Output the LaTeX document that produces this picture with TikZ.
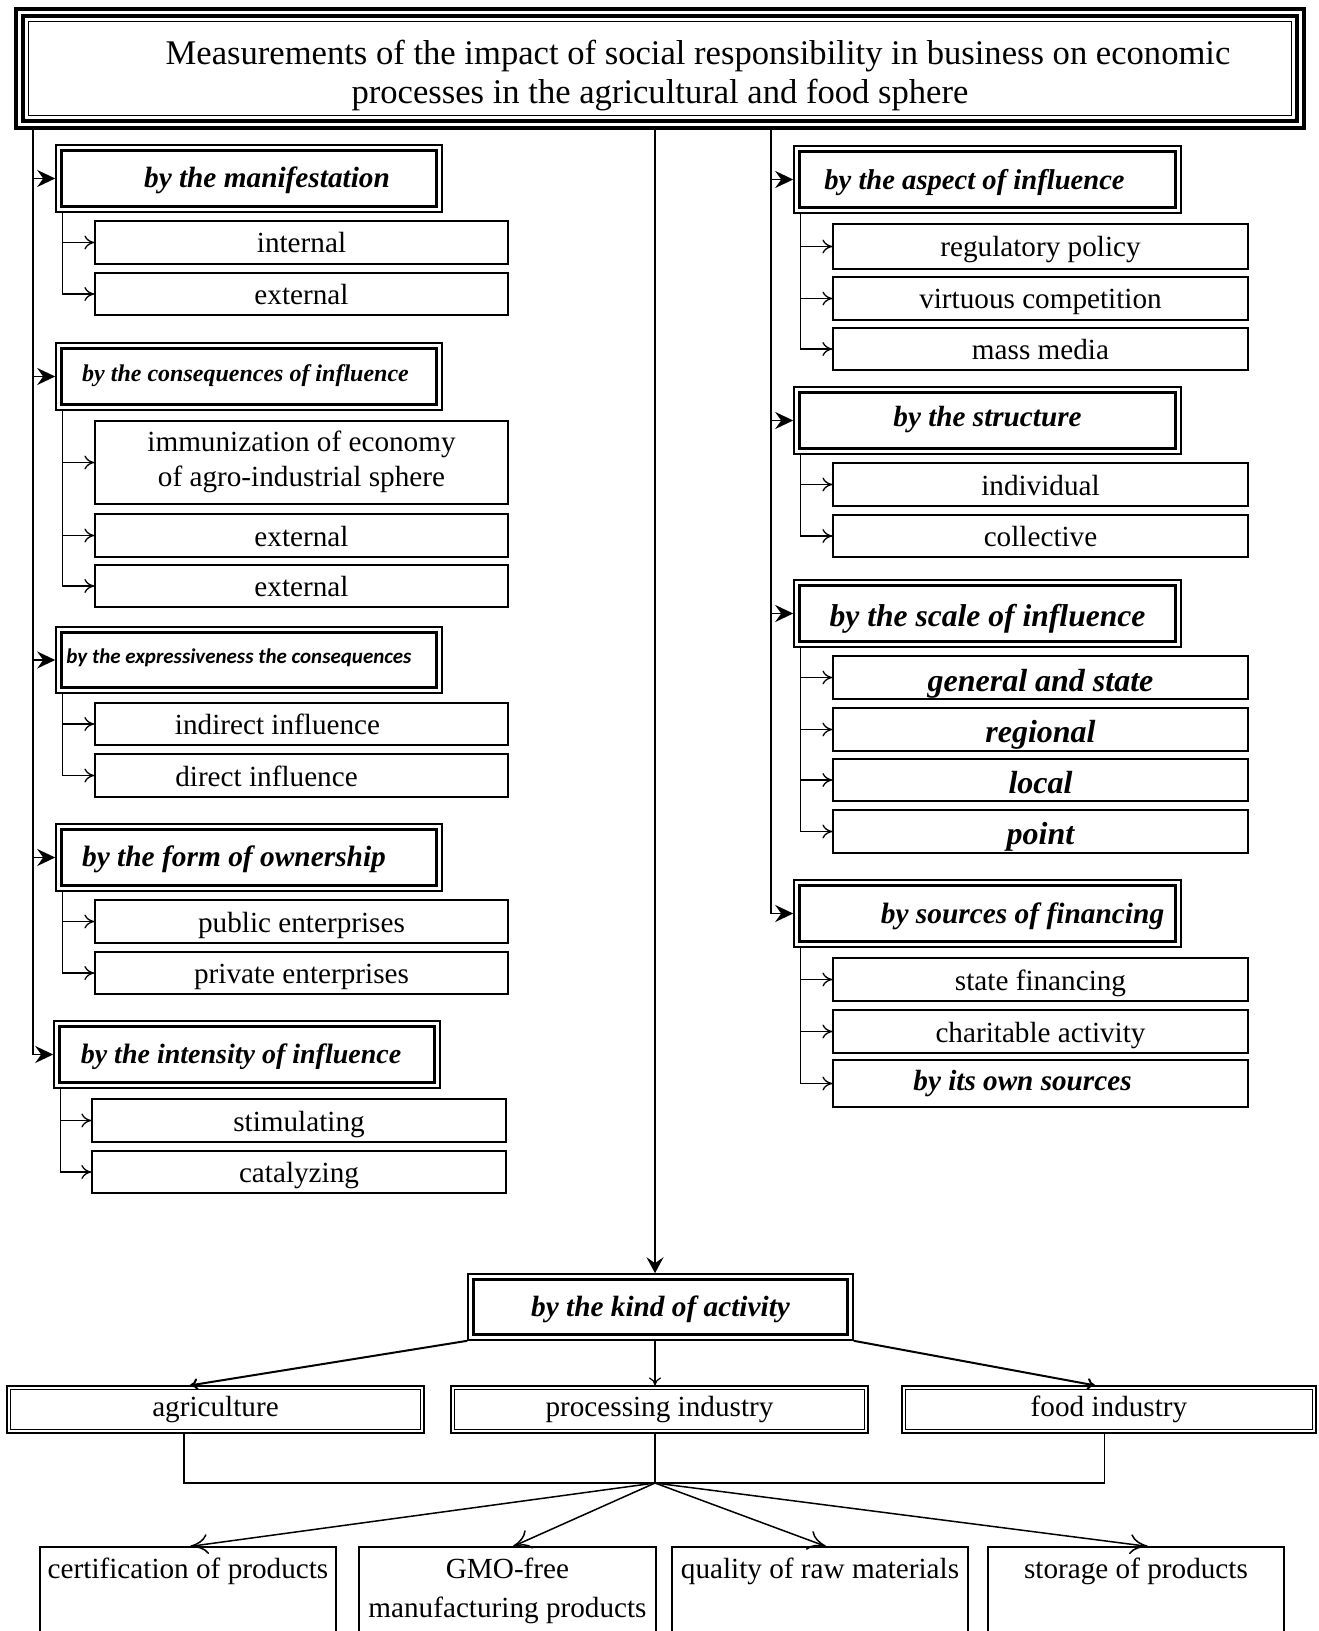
\documentclass[tikz,border=0pt]{standalone}
\usepackage{fontspec}
\setmainfont{Liberation Serif}
\newfontfamily\carlito{Carlito}
\usetikzlibrary{arrows.meta}
\begin{document}
\begin{tikzpicture}[x=0.5pt,y=-0.5pt,
  txt/.style={font=\fontsize{14.6}{17.5}\selectfont},
  bi/.style={font=\fontsize{#1}{#1}\selectfont\bfseries\itshape},
  sub/.style={draw, line width=0.6pt, inner sep=0pt, txt, text height=#1, text depth=0pt},
  sub/.default=10.5pt,
  cat/.style={draw, line width=0.8pt, inner sep=0pt, minimum height=33.5pt, text height=#1, text depth=0pt},
  cat/.default=9.5pt,
  dbl/.style={draw, line width=0.6pt, inner sep=0pt, txt, text height=7pt, text depth=0pt, minimum height=23.5pt},
  bot/.style={draw, line width=0.6pt, inner sep=0pt, txt, text height=10.5pt, text depth=28.5pt, minimum width=148pt, minimum height=49pt},
  catarrow/.style={line width=0.8pt, -{Stealth[length=9pt,width=8.5pt,inset=3pt]}},
  subarrow/.style={line width=0.65pt, -{To[length=5pt,width=7pt]}},
  midarrow/.style={line width=0.65pt, -{Stealth[length=8pt,width=8.5pt,inset=3pt]}},
  kindarrow/.style={line width=1pt, -{To[length=4pt,width=6pt]}},
  botarrow/.style={line width=0.75pt, -{To[length=9pt,width=10pt]}}
]
\useasboundingbox (0,0) rectangle (1318,1631);
\clip (0,0) rectangle (1318,1631);
\fill[white] (0,0) rectangle (1318,1631);

% title
\node[draw, line width=2pt, inner sep=0pt, minimum width=644pt, minimum height=59.5pt,
  font=\fontsize{17.3}{19.5}\selectfont, text height=12pt, text depth=15.5pt] (title) at (660,68.5)
  {\begin{tabular}[t]{@{}c@{}}\hspace*{38pt}Measurements of the impact of social responsibility in business on economic\\processes in the agricultural and food sphere\end{tabular}};
\draw[line width=1.8pt] ([shift={(4.5pt,-4.5pt)}]title.north west) rectangle ([shift={(-4.5pt,4.5pt)}]title.south east);
\draw[line width=0.9pt] ([shift={(7.25pt,-7.25pt)}]title.north west) rectangle ([shift={(-7.25pt,7.25pt)}]title.south east);

% left categories
\node[cat=9.5pt, bi=14.65, minimum width=193pt] (man) at (249,178.5) {\hspace*{18pt}by the manifestation};
\node[cat=5pt, bi=12, minimum width=193pt] (cons) at (249,376.5) {by the consequences of influence\hspace*{3.5pt}};
\node[cat=3pt, font=\fontsize{10.5}{10.5}\selectfont\carlito\bfseries\itshape, minimum width=193pt, minimum height=33pt] (expr) at (249,660) {by the expressiveness the consequences\hspace*{10pt}};
\node[cat=9pt, bi=14.7, minimum width=193pt] (own) at (249,857.5) {by the form of ownership\hspace*{15pt}};
\node[cat=8.5pt, bi=14, minimum width=193pt] (int) at (247,1054.5) {by the intensity of influence\hspace*{6pt}};

% left subs
\node[sub, minimum width=206.5pt, minimum height=21.5pt] (internal) at (301.5,242.5) {internal};
\node[sub, minimum width=206.5pt, minimum height=21pt] (ext1) at (301.5,294) {external};
\node[sub, minimum width=206.5pt, minimum height=41.5pt, text height=10.5pt, text depth=21.3pt] (immun) at (301.5,462.5)
  {\begin{tabular}[t]{@{}c@{}}immunization of economy\\of agro-industrial sphere\end{tabular}};
\node[sub, minimum width=206.5pt, minimum height=21.5pt] (ext2) at (301.5,535.5) {external};
\node[sub, minimum width=206.5pt, minimum height=21pt] (ext3) at (301.5,586) {external};
\node[sub, minimum width=206.5pt, minimum height=21pt] (indir) at (301.5,724) {indirect influence\hspace*{24pt}};
\node[sub, minimum width=206.5pt, minimum height=21.5pt] (dir) at (301.5,775.5) {direct influence\hspace*{35pt}};
\node[sub, minimum width=206.5pt, minimum height=21.5pt] (pub) at (301.5,921.5) {public enterprises};
\node[sub, minimum width=206.5pt, minimum height=21pt] (priv) at (301.5,973) {private enterprises};
\node[sub, minimum width=207pt, minimum height=21.5pt] (stim) at (299,1120.5) {stimulating};
\node[sub, minimum width=207pt, minimum height=21pt] (catal) at (299,1172) {catalyzing};

% right categories
\node[cat=10.5pt, bi=14.3, minimum width=193.5pt] (asp) at (987.5,179.5) {by the aspect of influence\hspace*{13pt}};
\node[cat=5.5pt, bi=14.6, minimum width=193.5pt] (str) at (987.5,420.5) {by the structure};
\node[cat=13pt, bi=15.8, minimum width=193.5pt] (sca) at (987.5,613.5) {by the scale of influence};
\node[cat=9.5pt, bi=14.7, minimum width=193.5pt] (fin) at (987.5,913.5) {\hspace*{35pt}by sources of financing};

% right subs
\node[sub, minimum width=207.5pt, minimum height=22.5pt] (reg) at (1040.5,246.5) {regulatory policy};
\node[sub, minimum width=207.5pt, minimum height=21.5pt] (virt) at (1040.5,298.5) {virtuous competition};
\node[sub, minimum width=207.5pt, minimum height=21pt] (mass) at (1040.5,349) {mass media};
\node[sub, minimum width=207.5pt, minimum height=21.5pt] (indiv) at (1040.5,484.5) {individual};
\node[sub, minimum width=207.5pt, minimum height=21pt] (coll) at (1040.5,536) {collective};
\node[sub=13.5pt, bi=16, minimum width=207.5pt, minimum height=21.5pt] (gen) at (1040.5,677.5) {general and state};
\node[sub=13pt, bi=16, minimum width=207.5pt, minimum height=21.5pt] (regn) at (1040.5,729.5) {regional};
\node[sub=13pt, bi=16, minimum width=207.5pt, minimum height=21pt] (loc) at (1040.5,780) {local};
\node[sub=12.5pt, bi=16, minimum width=207.5pt, minimum height=21.5pt] (pnt) at (1040.5,831.5) {point};
\node[sub, minimum width=207.5pt, minimum height=21.5pt] (sfin) at (1040.5,979.5) {state financing};
\node[sub, minimum width=207.5pt, minimum height=21.5pt] (char) at (1040.5,1031.5) {charitable activity};
\node[sub=7pt, bi=14.6, minimum width=207.5pt, minimum height=23.5pt] (osrc) at (1040.5,1083.5) {by its own sources\hspace*{18pt}};

% kind of activity
\node[cat=9.7pt, bi=14.65, minimum width=192.5pt, minimum height=33pt] (kind) at (660.5,1307) {by the kind of activity};
\node[dbl, minimum width=208.5pt] (agri) at (215.5,1409.5) {agriculture};
\node[dbl, minimum width=208.5pt] (proc) at (659.5,1409.5) {processing industry};
\node[dbl, minimum width=207pt] (food) at (1109,1409.5) {food industry};

% bottom boxes
\node[bot] (cert) at (188,1596) {certification of products};
\node[bot, minimum width=148.5pt] (gmo) at (507.5,1596) {\begin{tabular}[t]{@{}c@{}}GMO-free\\[2pt]manufacturing products\end{tabular}};
\node[bot] (qual) at (820,1596) {quality of raw materials};
\node[bot] (stor) at (1136,1596) {storage of products};

% inner border lines
\foreach \nn in {man,cons,expr,own,int,asp,str,sca,fin,kind}
  \draw[line width=1.4pt] ([shift={(3pt,-3pt)}]\nn.north west) rectangle ([shift={(-3pt,3pt)}]\nn.south east);
\foreach \nn in {agri,proc,food}
  \draw[line width=0.6pt] ([shift={(2pt,-2pt)}]\nn.north west) rectangle ([shift={(-2pt,2pt)}]\nn.south east);

% main connectors
\coordinate (LT) at (33,0);
\coordinate (RT) at (771,0);
\coordinate (CT) at (655,0);
\draw[catarrow] (title.south -| LT) |- (int.west);
\foreach \nn in {man,cons,expr,own} \draw[catarrow] (\nn.west -| LT) -- (\nn.west);
\draw[catarrow] (title.south -| RT) |- (fin.west);
\foreach \nn in {asp,str,sca} \draw[catarrow] (\nn.west -| RT) -- (\nn.west);
\draw[midarrow] (title.south -| CT) -- (kind.north -| CT);

% sub connectors
\foreach \pp/\qq in {man/internal, man/ext1, cons/immun, cons/ext2, cons/ext3, expr/indir, expr/dir, own/pub, own/priv, int/stim, int/catal,
  asp/reg, asp/virt, asp/mass, str/indiv, str/coll, sca/gen, sca/regn, sca/loc, sca/pnt, fin/sfin, fin/char, fin/osrc}
  \draw[subarrow] ([xshift=3.5pt]\pp.south west) |- (\qq.west);

% kind connectors
\draw[kindarrow] (kind.south west) -- ([xshift=-12.75pt]agri.north);
\draw[line width=0.6pt, -{To[length=4pt,width=6pt]}] (kind.south -| CT) -- (proc.north -| CT);
\draw[kindarrow] (kind.south east) -- ([xshift=-7pt]food.north);

\coordinate (J) at (655,1483);
\draw[line width=0.8pt] ([xshift=-15.75pt]agri.south) |- (J) -| ([xshift=-2.2pt]food.south);
\draw[line width=0.6pt] (proc.south -| J) -- (J);
\draw[botarrow] (J) -- ([xshift=1pt]cert.north);
\draw[botarrow] (J) -- ([xshift=2.75pt]gmo.north);
\draw[botarrow] (J) -- ([xshift=3pt]qual.north);
\draw[botarrow] (J) -- ([xshift=6pt]stor.north);
\end{tikzpicture}
\end{document}
